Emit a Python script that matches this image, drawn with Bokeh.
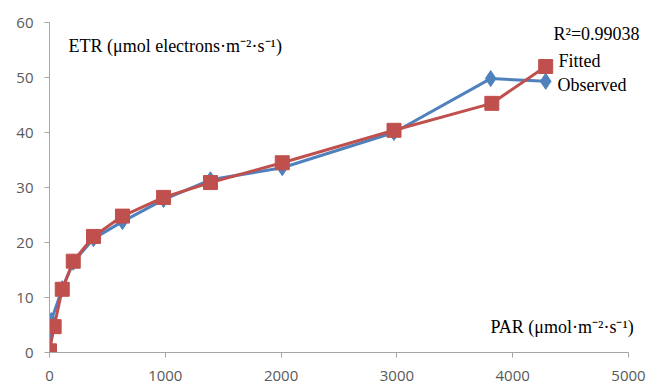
from bokeh.plotting import figure
from bokeh.models import Label, Range1d
from bokeh.embed import file_html
from bokeh.resources import INLINE

par_obs = [0, 15, 110, 205, 380, 630, 985, 1390, 2010, 2975, 3810, 4285]
etr_obs = [0.2, 5.8, 11.6, 16.4, 20.7, 23.8, 27.8, 31.4, 33.6, 40.0, 49.8, 49.3]
par_fit = [0, 40, 110, 205, 380, 630, 985, 1390, 2010, 2975, 3820, 4285]
etr_fit = [0.3, 4.7, 11.5, 16.6, 21.1, 24.8, 28.2, 30.9, 34.5, 40.4, 45.3, 52.0]
x_ticks = [0, 1000, 2000, 3000, 4000, 5000]
y_ticks = [0, 10, 20, 30, 40, 50, 60]

BLUE = "#4F81BD"
RED = "#C0504D"
GREY = "#595959"
AX = "#A6A6A6"

W, H = 648, 390
LEFT, AXIS_RIGHT = 49, 628
x_end = 5000 * (W - LEFT) / (AXIS_RIGHT - LEFT)

p = figure(width=W, height=H, output_backend="svg", toolbar_location=None,
           x_range=Range1d(0, x_end), y_range=Range1d(0, 60),
           min_border_left=LEFT, min_border_right=0, min_border_top=22, min_border_bottom=38)
p.outline_line_color = None
p.xgrid.visible = False
p.ygrid.visible = False
p.background_fill_color = "white"

for ax in (p.xaxis[0], p.yaxis[0]):
    ax.axis_line_color = AX
    ax.major_tick_line_color = AX
    ax.minor_tick_line_color = None
    ax.major_tick_in = 0
    ax.major_tick_out = 5
    ax.major_label_text_font = "Open Sans"
    ax.major_label_text_font_size = "15px"
    ax.major_label_text_color = GREY
p.xaxis.ticker = x_ticks
p.yaxis.ticker = y_ticks
p.xaxis.bounds = (x_ticks[0], x_ticks[-1])
p.xaxis.major_label_standoff = 13
p.yaxis.major_label_standoff = 11

p.line(par_obs, etr_obs, line_color=BLUE, line_width=3)
p.scatter(par_obs, etr_obs, marker="diamond", size=16, fill_color=BLUE, line_color=BLUE)
p.line(par_fit, etr_fit, line_color=RED, line_width=3)
p.scatter(par_fit, etr_fit, marker="square", size=14, fill_color=RED, line_color=RED)

SERIF = "Liberation Serif"
def lab(x, y, t, size="18px"):
    p.add_layout(Label(x=x, y=y, x_units="screen", y_units="screen", text=t,
                       text_font=SERIF, text_font_size=size, text_color="black",
                       text_baseline="middle"))

lab(19, 307, "ETR (μmol electrons·m⁻²·s⁻¹)")
lab(504, 319, "R²=0.99038")
lab(509, 292, "Fitted")
lab(508, 268, "Observed")
lab(441, 26, "PAR (μmol·m⁻²·s⁻¹)")

open("out.html", "w").write(file_html(p, INLINE))
